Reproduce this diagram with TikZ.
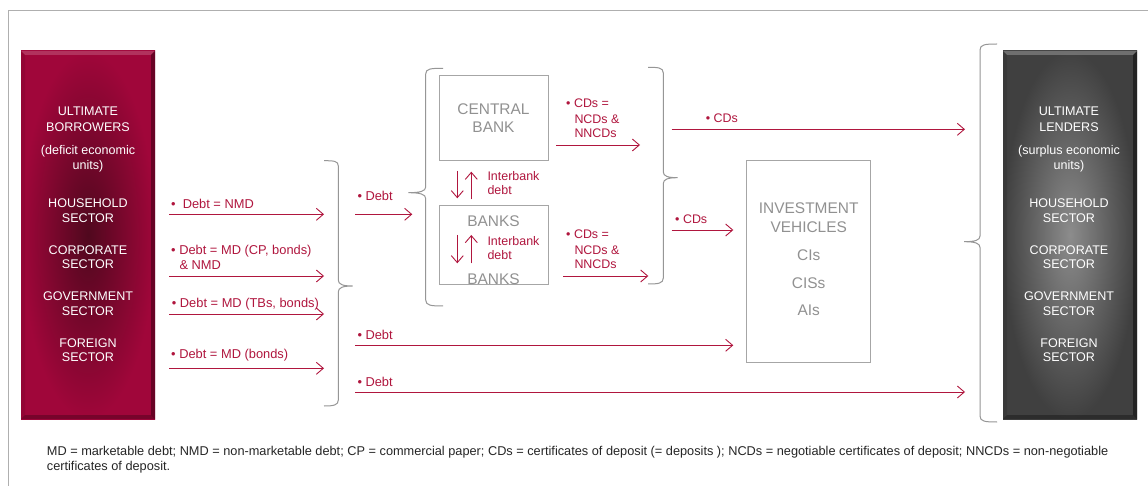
\documentclass[tikz,border=0pt]{standalone}
\usepackage{fontspec}
\setmainfont{Liberation Sans}
\usetikzlibrary{arrows.meta}
\definecolor{mred}{RGB}{176,22,62}
\definecolor{boxred}{RGB}{160,6,58}
\definecolor{boxredc}{RGB}{80,8,30}
\definecolor{boxgray}{RGB}{64,64,64}
\definecolor{boxgrayc}{RGB}{140,140,140}
\definecolor{gline}{RGB}{166,166,166}
\definecolor{gtxt}{RGB}{145,145,145}
\definecolor{gbrace}{RGB}{150,150,150}
\definecolor{frame}{RGB}{175,175,175}
\tikzset{
  lab/.style={text=mred, font=\fontsize{12.5}{15}\selectfont, inner sep=0, anchor=base west},
  labL/.style={lab, font=\fontsize{12.9}{15}\selectfont},
  flow/.style={draw=mred, line width=0.9bp, -{Straight Barb[length=7bp,width=12bp]}},
  gbox/.style={draw=gline, line width=1bp},
  gtext/.style={text=gtxt, font=\fontsize{15.5}{18}\selectfont, inner sep=0, anchor=base},
  wtext/.style={text=white, font=\fontsize{12.6}{15}\selectfont, inner sep=0, anchor=base},
  brace/.style={draw=gbrace, line width=1bp},
  note/.style={text=black!85, font=\fontsize{12.8}{14}\selectfont, inner sep=0, anchor=base west},
}
\begin{document}
\begin{tikzpicture}[x=1bp,y=-1bp]
\useasboundingbox (0,0) rectangle (1148,486);
\fill[white] (0,0) rectangle (1148,486);
% frame
\draw[frame, line width=1bp] (1148,10.5) -- (8,10.5) -- (8,486);

% left box
\shade[inner color=boxredc, outer color=boxred] (21,51) rectangle (155,419);
\fill[white, opacity=0.18] (21,51) -- (155,51) -- (151,55) -- (25,55) -- cycle;
\fill[black, opacity=0.35] (155,51) -- (155,419) -- (151,415) -- (151,55) -- cycle;
\fill[black, opacity=0.25] (21,419) -- (155,419) -- (151,415) -- (25,415) -- cycle;
\fill[black, opacity=0.08] (21,51) -- (25,55) -- (25,415) -- (21,419) -- cycle;

% right box
\shade[inner color=boxgrayc, outer color=boxgray] (1003,51) rectangle (1137,419);
\fill[white, opacity=0.25] (1003,51) -- (1137,51) -- (1133,55) -- (1007,55) -- cycle;
\fill[black, opacity=0.45] (1137,51) -- (1137,419) -- (1133,415) -- (1133,55) -- cycle;
\fill[black, opacity=0.3] (1003,419) -- (1137,419) -- (1133,415) -- (1007,415) -- cycle;
\fill[black, opacity=0.1] (1003,51) -- (1007,55) -- (1007,415) -- (1003,419) -- cycle;

% left box texts
\node[wtext] (l1) at (88,115.2) {ULTIMATE};
\node[wtext] (l2) at (88,131.2) {BORROWERS};
\node[wtext] (l3) at (88,154.5) {(deficit economic};
\node[wtext] (l4) at (88,169.3) {units)};
\node[wtext] (l5) at (88,207.8) {HOUSEHOLD};
\node[wtext] (l6) at (88,222.8) {SECTOR};
\node[wtext] (l7) at (88,254.5) {CORPORATE};
\node[wtext] (l8) at (88,268.8) {SECTOR};
\node[wtext] (l9) at (88,300.5) {GOVERNMENT};
\node[wtext] (l10) at (88,315.8) {SECTOR};
\node[wtext] (l11) at (88,347.2) {FOREIGN};
\node[wtext] (l12) at (88,361.8) {SECTOR};

% right box texts
\node[wtext] (r1) at (1069,115.2) {ULTIMATE};
\node[wtext] (r2) at (1069,131.2) {LENDERS};
\node[wtext] (r3) at (1069,154.5) {(surplus economic};
\node[wtext] (r4) at (1069,169.3) {units)};
\node[wtext] (r5) at (1069,207.8) {HOUSEHOLD};
\node[wtext] (r6) at (1069,222.8) {SECTOR};
\node[wtext] (r7) at (1069,254.5) {CORPORATE};
\node[wtext] (r8) at (1069,268.8) {SECTOR};
\node[wtext] (r9) at (1069,300.5) {GOVERNMENT};
\node[wtext] (r10) at (1069,315.8) {SECTOR};
\node[wtext] (r11) at (1069,347.2) {FOREIGN};
\node[wtext] (r12) at (1069,361.8) {SECTOR};

% gray boxes
\draw[gbox] (439,76) rectangle (548,161);
\draw[gbox] (439,206) rectangle (548,285);
\draw[gbox] (746.7,161) rectangle (870.7,362.7);
\node[gtext] (cb1) at (493.5,114.5) {CENTRAL};
\node[gtext] (cb2) at (493.5,132.8) {BANK};
\node[gtext] (bk1) at (493.5,226.2) {BANKS};
\node[gtext] (bk2) at (493.5,284.2) {BANKS};
\node[gtext] (iv1) at (808.7,213.8) {INVESTMENT};
\node[gtext] (iv2) at (808.7,232.2) {VEHICLES};
\node[gtext] (iv3) at (808.7,260.2) {CIs};
\node[gtext] (iv4) at (808.7,288.2) {CISs};
\node[gtext] (iv5) at (808.7,315.5) {AIs};

% braces
\draw[brace] (324,160.7) .. controls (334,160.7) and (338.3,161) .. (338.3,166) -- (338.3,280)
  .. controls (338.3,284.5) and (343,286) .. (352.7,286)
  .. controls (343,286) and (338.3,287.5) .. (338.3,292) -- (338.3,400)
  .. controls (338.3,405) and (334,406) .. (324,406);
\draw[brace] (443,68.3) .. controls (431,68.3) and (425.7,68.6) .. (425.7,74) -- (425.7,187)
  .. controls (425.7,191.2) and (420,192.7) .. (408.3,192.7)
  .. controls (420,192.7) and (425.7,194.2) .. (425.7,198.5) -- (425.7,300)
  .. controls (425.7,305.5) and (431,306) .. (443,306);
\draw[brace] (648,67.3) .. controls (658,67.3) and (663.3,67.6) .. (663.3,73) -- (663.3,172)
  .. controls (663.3,176.2) and (668,177.7) .. (677.7,177.7)
  .. controls (668,177.7) and (663.3,179.2) .. (663.3,183.5) -- (663.3,278)
  .. controls (663.3,283.5) and (658,284) .. (648,284);
\draw[brace] (997,44) .. controls (985,44) and (980,44.5) .. (980,50) -- (980,236)
  .. controls (980,240.2) and (975,241.7) .. (964,241.7)
  .. controls (975,241.7) and (980,243.2) .. (980,247.5) -- (980,416)
  .. controls (980,421.5) and (985,422) .. (997,422);

% arrow end points
\coordinate (a1s) at (169.3,214.3); \coordinate (a1e) at (324,214.3);
\coordinate (a2s) at (169.3,276);   \coordinate (a2e) at (324,276);
\coordinate (a3s) at (169.3,314);   \coordinate (a3e) at (324,314);
\coordinate (a4s) at (169.3,368.3); \coordinate (a4e) at (324,368.3);
\coordinate (b1s) at (355,214.3);   \coordinate (b1e) at (412.3,214.3);
\coordinate (b2s) at (355,345.3);   \coordinate (b2e) at (733.3,345.3);
\coordinate (b3s) at (355,392);     \coordinate (b3e) at (965,392);
\coordinate (c1s) at (556,145);     \coordinate (c1e) at (640,145);
\coordinate (c2s) at (563.3,276);   \coordinate (c2e) at (648.3,276);
\coordinate (d1s) at (671.7,129.3); \coordinate (d1e) at (965,129.3);
\coordinate (d2s) at (671.7,230);   \coordinate (d2e) at (733.3,230);
\coordinate (i1t) at (457.3,171);   \coordinate (i1b) at (457.3,198.3);
\coordinate (i2t) at (471.3,171.7); \coordinate (i2b) at (471.3,199.3);
\coordinate (i3t) at (457.3,235);   \coordinate (i3b) at (457.3,263.3);
\coordinate (i4t) at (471.3,235);   \coordinate (i4b) at (471.3,263.3);

\draw[flow] (a1s) -- (a1e);
\draw[flow] (a2s) -- (a2e);
\draw[flow] (a3s) -- (a3e);
\draw[flow] (a4s) -- (a4e);
\draw[flow] (b1s) -- (b1e);
\draw[flow] (b2s) -- (b2e);
\draw[flow] (b3s) -- (b3e);
\draw[flow] (c1s) -- (c1e);
\draw[flow] (c2s) -- (c2e);
\draw[flow] (d1s) -- (d1e);
\draw[flow] (d2s) -- (d2e);
\draw[flow] (i1t) -- (i1b);
\draw[flow] (i2b) -- (i2t);
\draw[flow] (i3t) -- (i3b);
\draw[flow] (i4b) -- (i4t);

% labels
\node[labL] (t1) at (171,208.2) {•\hspace{3.5bp} Debt = NMD};
\node[labL] (t2) at (171,254.2) {• Debt = MD (CP, bonds)};
\node[labL] (t2b) at (179.3,269.8) {\& NMD};
\node[labL] (t3) at (171.7,307.8) {• Debt = MD (TBs, bonds)};
\node[labL] (t4) at (171,358.2) {• Debt = MD (bonds)};
\node[labL] (u1) at (357.3,200.2) {• Debt};
\node[labL] (u2) at (357.3,339.2) {• Debt};
\node[labL] (u3) at (357.3,386.2) {• Debt};
\node[lab] (v1) at (566,107.8) {• CDs =};
\node[lab] (v2) at (574.3,123.5) {NCDs \&};
\node[lab] (v3) at (574.3,137.8) {NNCDs};
\node[lab] (w1) at (566,238.8) {• CDs =};
\node[lab] (w2) at (574.3,254.5) {NCDs \&};
\node[lab] (w3) at (574.3,268.8) {NNCDs};
\node[lab] (ib1) at (487.3,180.5) {Interbank};
\node[lab] (ib2) at (487.3,194.5) {debt};
\node[lab] (ib3) at (487.3,245.2) {Interbank};
\node[lab] (ib4) at (487.3,259.5) {debt};
\node[lab] (x1) at (705.7,122.8) {• CDs};
\node[lab] (x2) at (675,223.5) {• CDs};

% footnote
\node[note] (n1) at (46.7,455) {MD = marketable debt; NMD = non-marketable debt; CP = commercial paper; CDs = certificates of deposit (= deposits ); NCDs = negotiable certificates of deposit; NNCDs = non-negotiable};
\node[note] (n2) at (46.7,470.3) {certificates of deposit.};
\end{tikzpicture}
\end{document}
